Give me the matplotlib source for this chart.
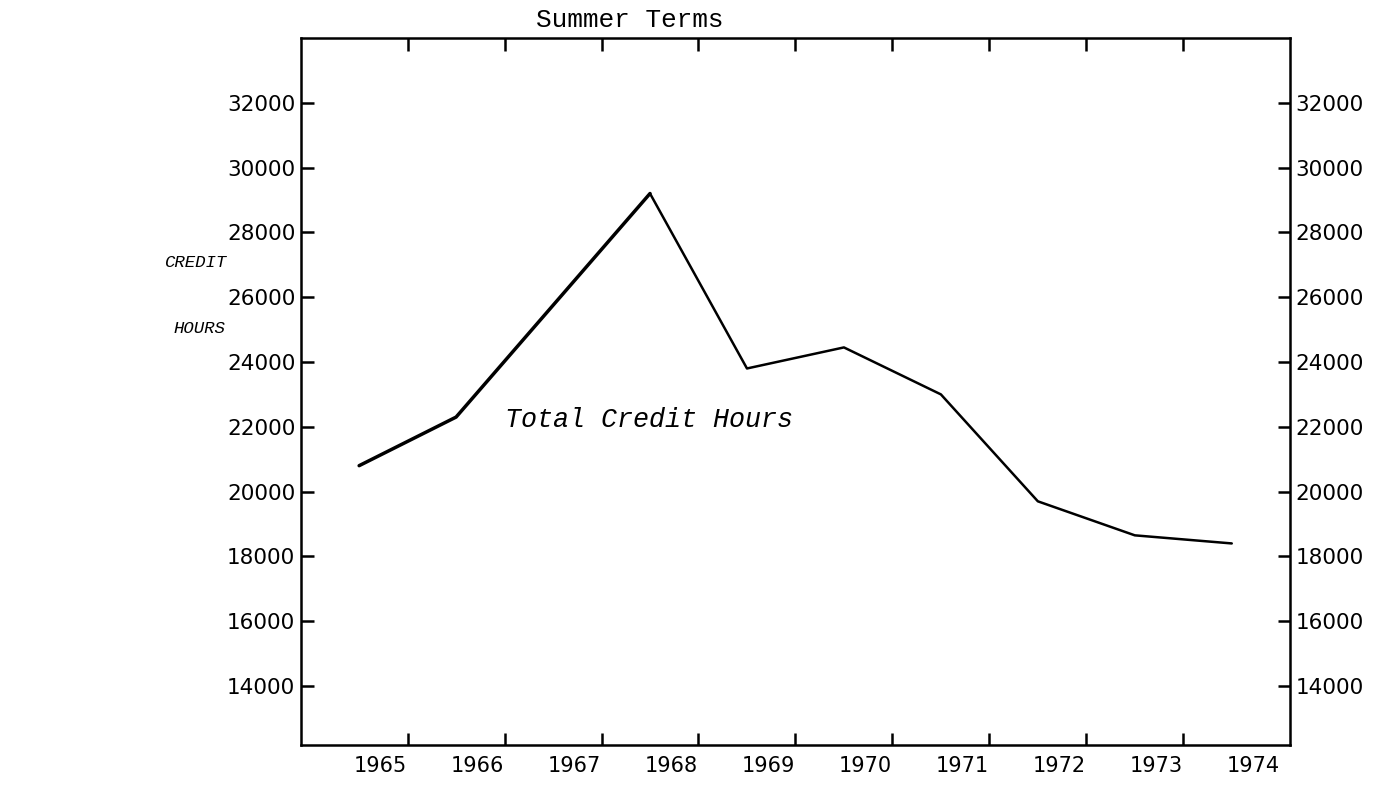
import matplotlib.pyplot as plt
from matplotlib.ticker import FixedLocator, NullFormatter

years = [1965, 1966, 1967, 1968, 1969, 1970, 1971, 1972, 1973, 1974]
# 1967 has no marked point on the original, the line runs straight 1966 -> 1968
line_years = [1965, 1966, 1968, 1969, 1970, 1971, 1972, 1973, 1974]
credit_hours = [20800, 22300, 29200, 23800, 24450, 23000, 19700, 18650, 18400]
yticks = [14000, 16000, 18000, 20000, 22000, 24000, 26000, 28000, 30000, 32000]

fig = plt.figure(figsize=(13.78, 7.85), dpi=100)
ax = fig.add_axes([0.2184, 0.051, 0.7177, 0.9006])

# the rising part is inked heavier than the rest on the original
ax.plot(line_years[:3], credit_hours[:3], color="black", lw=2.5,
        solid_capstyle="round")
ax.plot(line_years[2:], credit_hours[2:], color="black", lw=1.8,
        solid_capstyle="round")

ax.set_xlim(1964.4, 1974.6)
ax.set_ylim(12180, 34000)

# tick marks sit between the years, labels a bit right of each year
ax.xaxis.set_major_locator(FixedLocator([y + 0.5 for y in years[:-1]]))
ax.xaxis.set_major_formatter(NullFormatter())
ax.xaxis.set_minor_locator(FixedLocator([y + 0.22 for y in years]))
ax.set_xticklabels([str(y) for y in years], minor=True)
ax.tick_params(axis="x", which="major", direction="in", top=True, bottom=True,
               length=9, width=1.8)
ax.tick_params(axis="x", which="minor", length=0, labelsize=15, pad=8)

ax.set_yticks(yticks)
ax.set_yticklabels([str(v) for v in yticks])
ax.tick_params(axis="y", which="both", direction="in", left=True, right=True,
               labelleft=True, labelright=True, length=9, width=1.8,
               labelsize=15.5, pad=4)

for s in ax.spines.values():
    s.set_linewidth(1.8)

fig.text(0.457, 0.974, "Summer Terms", family="Liberation Mono", fontsize=18.8,
         ha="center", va="center")
fig.text(0.1415, 0.666, "CREDIT", family="Liberation Mono", style="italic",
         fontsize=12.5, ha="center", va="center")
fig.text(0.145, 0.582, "HOURS", family="Liberation Mono", style="italic",
         fontsize=12.5, ha="center", va="center")
ax.text(1966.5, 22200, "Total Credit Hours", family="Liberation Mono",
        style="italic", fontsize=19.3, ha="left", va="center")

fig.savefig("out.png", dpi=100)
